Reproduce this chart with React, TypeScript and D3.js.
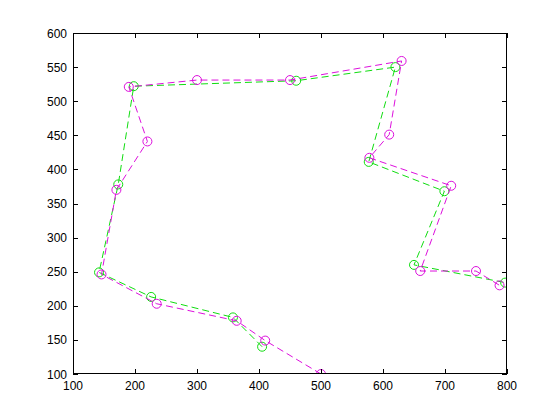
import React from "react";
import * as d3 from "d3";

const greenX = [405, 358, 226, 142, 173, 198, 460, 620, 577, 699, 650, 797];
const greenY = [140, 183, 213, 249, 378, 522, 530, 550, 411, 368, 260, 234];
const magentaX = [500, 410, 364, 235, 146, 170, 220, 190, 300, 450, 630, 610, 578, 710, 660, 750, 788];
const magentaY = [100, 149, 178, 203, 246, 370, 441, 521, 531, 531, 559, 451, 417, 376, 251, 251, 230];
const xTicks = [100, 200, 300, 400, 500, 600, 700, 800];
const yTicks = [100, 150, 200, 250, 300, 350, 400, 450, 500, 550, 600];

export default function App() {
  const W = 560, H = 420;
  const left = 73, right = 507, top = 33, bottom = 374;
  const x = d3.scaleLinear().domain([100, 800]).range([left, right]);
  const y = d3.scaleLinear().domain([100, 600]).range([bottom, top]);
  const line = d3.line<[number, number]>().x(d => x(d[0])).y(d => y(d[1]));
  const series = [
    { xs: greenX, ys: greenY, color: "#10dd10" },
    { xs: magentaX, ys: magentaY, color: "#dd10dd" },
  ];
  const tl = 5;
  const font = "Liberation Sans, Arial, sans-serif";
  return (
    <svg width={W} height={H} style={{ position: "absolute", left: 0, top: 0, background: "#fff" }}>
      <rect x={0} y={0} width={W} height={H} fill="#fff" />
      <defs>
        <clipPath id="clip">
          <rect x={left} y={top} width={right - left} height={bottom - top} />
        </clipPath>
      </defs>
      <g clipPath="url(#clip)">
        {series.map((s, i) => {
          const pts = s.xs.map((v, j) => [v, s.ys[j]] as [number, number]);
          return (
            <g key={i}>
              <path d={line(pts) || ""} fill="none" stroke={s.color} strokeWidth={1} strokeDasharray="7,4" />
              {pts.map((p, j) => (
                <circle key={j} cx={x(p[0])} cy={y(p[1])} r={4.5} fill="none" stroke={s.color} strokeWidth={1} />
              ))}
            </g>
          );
        })}
      </g>
      <rect x={left + 0.5} y={top + 0.5} width={right - left - 1} height={bottom - top - 1} fill="none" stroke="#000" strokeWidth={1} />
      {xTicks.map(t => (
        <g key={"x" + t}>
          <line x1={Math.round(x(t)) + 0.5} x2={Math.round(x(t)) + 0.5} y1={bottom} y2={bottom - tl} stroke="#000" />
          <line x1={Math.round(x(t)) + 0.5} x2={Math.round(x(t)) + 0.5} y1={top} y2={top + tl} stroke="#000" />
          <text x={x(t)} y={bottom + 16} textAnchor="middle" fontSize={12} fontFamily={font} fill="#000">{t}</text>
        </g>
      ))}
      {yTicks.map(t => (
        <g key={"y" + t}>
          <line x1={left} x2={left + tl} y1={Math.round(y(t)) + 0.5} y2={Math.round(y(t)) + 0.5} stroke="#000" />
          <line x1={right} x2={right - tl} y1={Math.round(y(t)) + 0.5} y2={Math.round(y(t)) + 0.5} stroke="#000" />
          <text x={left - 6} y={y(t) + 4.5} textAnchor="end" fontSize={12} fontFamily={font} fill="#000">{t}</text>
        </g>
      ))}
    </svg>
  );
}
